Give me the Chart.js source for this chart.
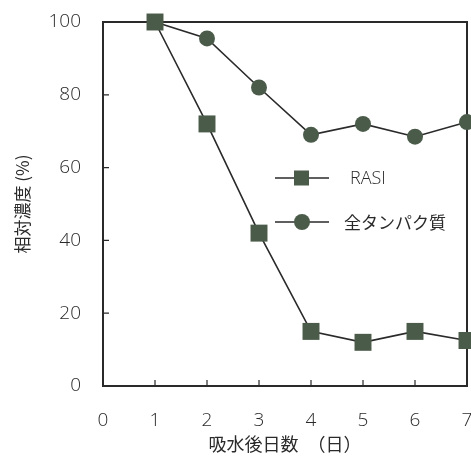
<!DOCTYPE html>
<html>
<head>
<meta charset="utf-8">
<script src="https://cdn.jsdelivr.net/npm/chart.js@4/dist/chart.umd.min.js"></script>
<style>
  html, body { margin: 0; padding: 0; background: #fff; }
  #wrap { width: 471px; height: 459px; }
</style>
</head>
<body>
<div id="wrap"><canvas id="chart" width="471" height="459"></canvas></div>
<script>
// days after water uptake
const days = [1, 2, 3, 4, 5, 6, 7];
// relative concentration (%)
const rasi = [100, 72, 42, 15, 12, 15, 12.5];
const totalProtein = [100, 95.5, 82, 69, 72, 68.5, 72.5];
const xTicks = [0, 1, 2, 3, 4, 5, 6, 7];
const yTicks = [0, 20, 40, 60, 80, 100];

const ink = '#2a2a2a';
const markFill = '#4b5b4a';
const numFont = { family: "'Open Sans', 'DejaVu Sans', sans-serif", size: 19, weight: '300' };
const jpFont = "'Noto Sans CJK JP', sans-serif";

// frame + inward ticks
const framePlugin = {
  id: 'frame',
  beforeDatasetsDraw(chart) {
    const { ctx, chartArea: a, scales } = chart;
    ctx.save();
    ctx.strokeStyle = ink;
    ctx.lineWidth = 2;
    ctx.strokeRect(a.left, a.top, a.right - a.left, a.bottom - a.top);
    ctx.lineWidth = 1.2;
    ctx.beginPath();
    yTicks.slice(1, -1).forEach(v => {
      const y = scales.y.getPixelForValue(v);
      ctx.moveTo(a.left, y);
      ctx.lineTo(a.left + 6, y);
    });
    xTicks.slice(1, -1).forEach(v => {
      const x = scales.x.getPixelForValue(v);
      ctx.moveTo(x, a.bottom);
      ctx.lineTo(x, a.bottom - 6);
    });
    ctx.stroke();
    ctx.restore();
  }
};

// legend drawn inside the plot area
const keyPlugin = {
  id: 'key',
  afterDatasetsDraw(chart) {
    const { ctx } = chart;
    const rows = [
      { y: 178, label: 'RASI', shape: 'rect', tx: 350 },
      { y: 222, label: '全タンパク質', shape: 'circle', tx: 344 }
    ];
    ctx.save();
    rows.forEach(r => {
      ctx.strokeStyle = ink;
      ctx.lineWidth = 1.5;
      ctx.beginPath();
      ctx.moveTo(275, r.y);
      ctx.lineTo(329, r.y);
      ctx.stroke();
      ctx.fillStyle = markFill;
      if (r.shape === 'rect') {
        ctx.fillRect(294, r.y - 7.5, 15, 15);
      } else {
        ctx.beginPath();
        ctx.arc(302, r.y, 8, 0, Math.PI * 2);
        ctx.fill();
      }
      ctx.fillStyle = ink;
      ctx.textBaseline = 'middle';
      ctx.font = r.shape === 'rect' ? "300 18px 'Open Sans', sans-serif" : '17px ' + jpFont;
      ctx.fillText(r.label, r.tx, r.y + 1);
    });
    ctx.restore();
  }
};

new Chart(document.getElementById('chart'), {
  type: 'line',
  data: {
    datasets: [{
      label: 'RASI',
      data: days.map((d, i) => ({ x: d, y: rasi[i] })),
      borderColor: ink,
      borderWidth: 1.6,
      pointStyle: 'rect',
      pointRadius: 12,
      pointBackgroundColor: markFill,
      pointBorderWidth: 0,
      clip: false
    }, {
      label: '全タンパク質',
      data: days.map((d, i) => ({ x: d, y: totalProtein[i] })),
      borderColor: ink,
      borderWidth: 1.6,
      pointStyle: 'circle',
      pointRadius: 8,
      pointBackgroundColor: markFill,
      pointBorderWidth: 0,
      clip: false
    }]
  },
  options: {
    responsive: false,
    animation: false,
    layout: { autoPadding: false, padding: { left: 0, right: 4, top: 22, bottom: 0 } },
    plugins: { legend: { display: false }, tooltip: { enabled: false } },
    scales: {
      x: {
        type: 'linear',
        min: 0,
        max: 7,
        afterBuildTicks: s => { s.ticks = xTicks.map(v => ({ value: v })); },
        afterFit: s => { s.height = 73; s.paddingLeft = 0; s.paddingRight = 0; },
        grid: { display: false },
        border: { display: false },
        ticks: { color: ink, font: numFont, padding: 15, maxRotation: 0 },
        title: {
          display: true,
          text: '吸水後日数　（日）',
          color: ink,
          font: { family: jpFont, size: 18 },
          padding: { top: 4 }
        }
      },
      y: {
        min: 0,
        max: 100,
        afterBuildTicks: s => { s.ticks = yTicks.map(v => ({ value: v })); },
        afterFit: s => { s.width = 103; s.paddingTop = 0; s.paddingBottom = 0; },
        grid: { display: false },
        border: { display: false },
        ticks: { color: ink, font: numFont, padding: 14 },
        title: {
          display: true,
          text: '相対濃度 (%)',
          color: ink,
          font: { family: jpFont, size: 17 },
          padding: { top: 12, bottom: 0 }
        }
      }
    }
  },
  plugins: [framePlugin, keyPlugin]
});
</script>
</body>
</html>
